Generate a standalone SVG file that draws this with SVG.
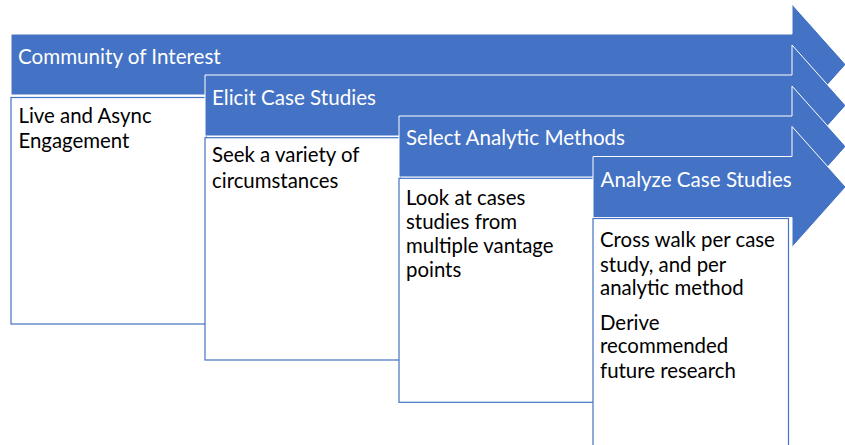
<svg xmlns="http://www.w3.org/2000/svg" width="845" height="445" viewBox="0 0 845 445">
  <style>
    .arrow { fill: #4472C4; stroke: #FFFFFF; stroke-width: 1; stroke-linejoin: miter; }
    .box { fill: #FFFFFF; stroke: #4472C4; stroke-width: 1.2; }
    .title { font-family: Lato, "Open Sans", sans-serif; font-size: 20.6px; fill: #FFFFFF; }
    .body { font-family: Lato, "Open Sans", sans-serif; font-size: 20.4px; fill: #000000; }
  </style>
  <rect width="845" height="445" fill="#FFFFFF"/>
  <g id="connectors"/>

  <!-- Stage 1 -->
  <g id="stage-community">
    <polygon class="arrow" points="11,34 792,34 792,4 846,64.5 792,125 792,95 11,95"/>
    <text class="title" x="18" y="64.3">Community of Interest</text>
    <rect class="box" x="11" y="97.5" width="195.5" height="226.5"/>
    <text class="body" x="18.5" y="123.3">Live and Async</text>
    <text class="body" x="18.5" y="147.7">Engagement</text>
  </g>

  <!-- Stage 2 -->
  <g id="stage-elicit">
    <polygon class="arrow" points="205,75 792,75 792,45 846,105.5 792,166 792,136 205,136"/>
    <text class="title" x="212" y="105">Elicit Case Studies</text>
    <rect class="box" x="205" y="137.7" width="195.5" height="222.3"/>
    <text class="body" x="212" y="162.3">Seek a variety of</text>
    <text class="body" x="212" y="187.7">circumstances</text>
  </g>

  <!-- Stage 3 -->
  <g id="stage-select">
    <polygon class="arrow" points="399,116 792,116 792,86 846,146.5 792,207 792,177 399,177"/>
    <text class="title" x="406" y="145">Select Analytic Methods</text>
    <rect class="box" x="399" y="178.3" width="195.5" height="224"/>
    <text class="body" x="406" y="205">Look at cases</text>
    <text class="body" x="406" y="228.7">studies from</text>
    <text class="body" x="406" y="253">multiple vantage</text>
    <text class="body" x="406" y="276.7">points</text>
  </g>

  <!-- Stage 4 -->
  <g id="stage-analyze">
    <polygon class="arrow" points="593,156.5 792,156.5 792,126.5 846,187 792,247.5 792,217.5 593,217.5"/>
    <text class="title" x="600.5" y="186.7">Analyze Case Studies</text>
    <rect class="box" x="593" y="218.5" width="195.5" height="240"/>
    <text class="body" x="600" y="246.7">Cross walk per case</text>
    <text class="body" x="600" y="271.5">study, and per</text>
    <text class="body" x="600" y="295">analytic method</text>
    <text class="body" x="600" y="330">Derive</text>
    <text class="body" x="600" y="353.3">recommended</text>
    <text class="body" x="600" y="378.3">future research</text>
  </g>
</svg>
